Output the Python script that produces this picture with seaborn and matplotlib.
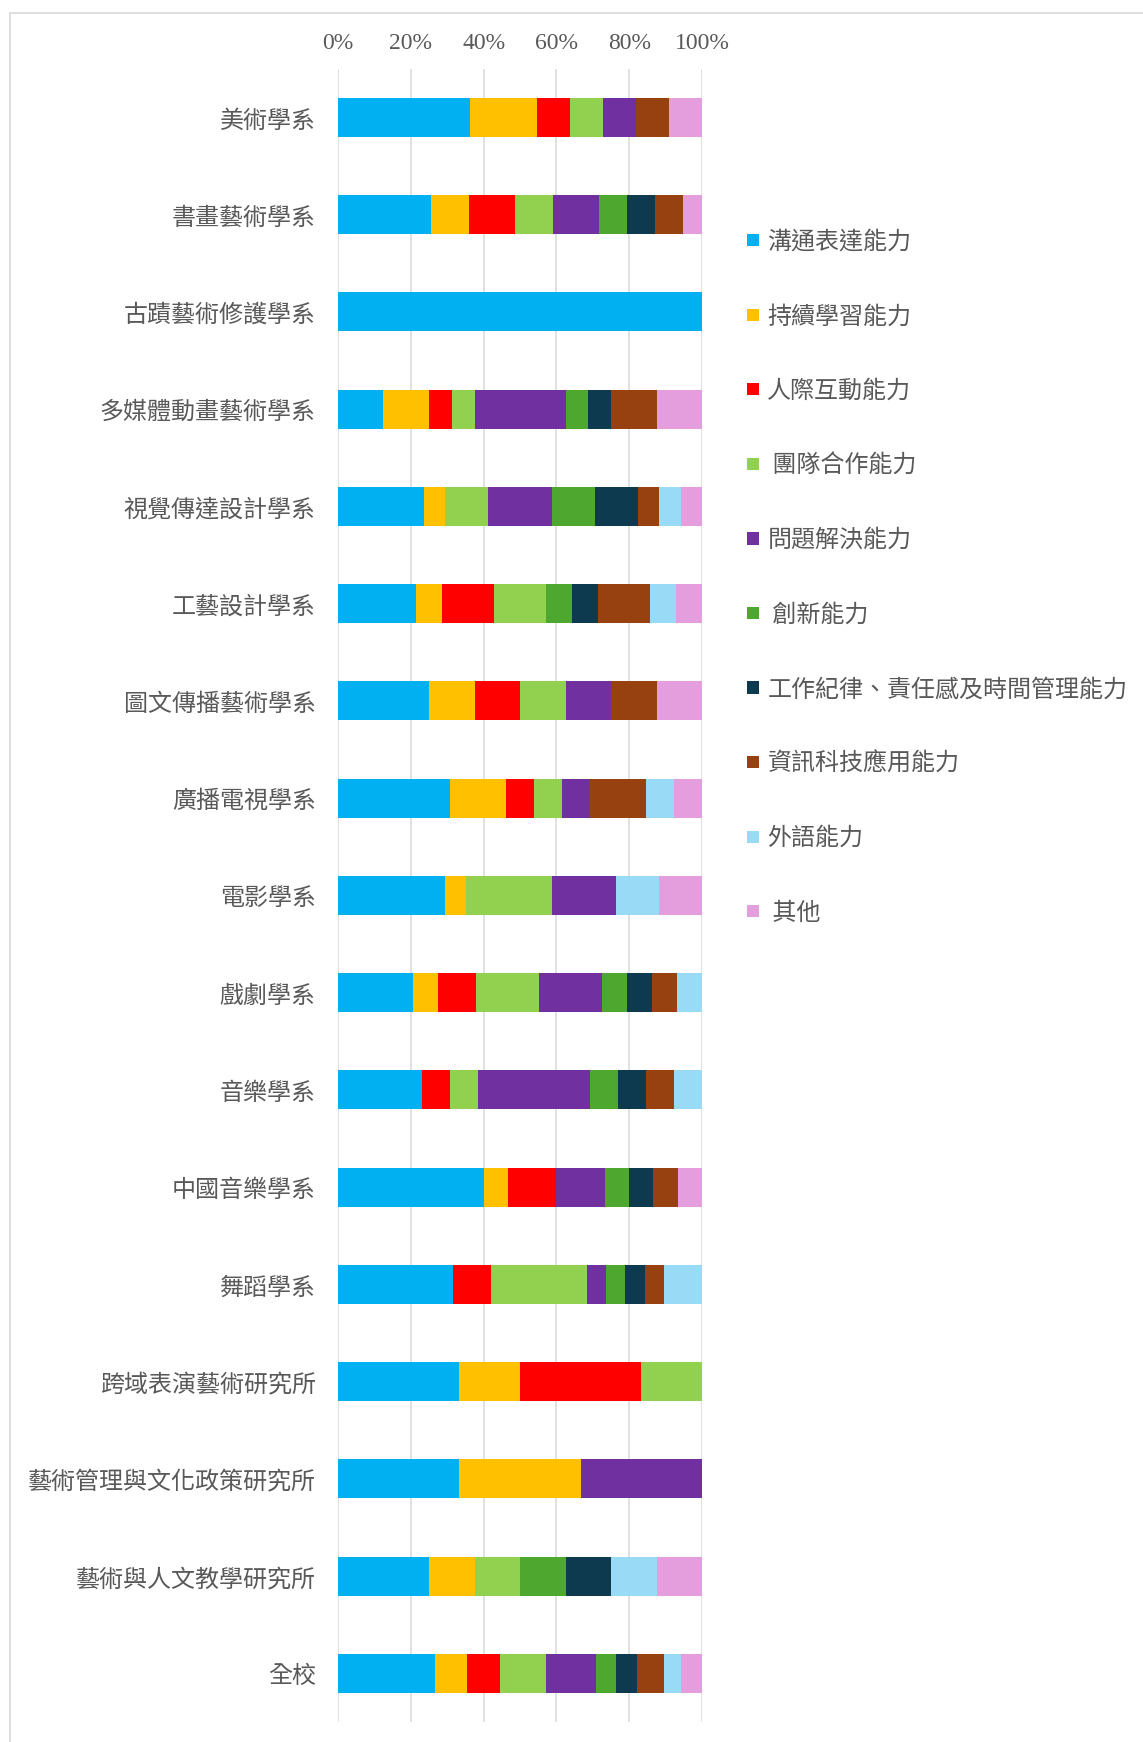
import matplotlib
matplotlib.use("Agg")
import matplotlib.pyplot as plt
import pandas as pd
import seaborn as sns
from matplotlib.lines import Line2D
from matplotlib.patches import Patch

# 各學系 (由上而下)
departments = ["美術學系", "書畫藝術學系", "古蹟藝術修護學系", "多媒體動畫藝術學系",
               "視覺傳達設計學系", "工藝設計學系", "圖文傳播藝術學系", "廣播電視學系",
               "電影學系", "戲劇學系", "音樂學系", "中國音樂學系", "舞蹈學系",
               "跨域表演藝術研究所", "藝術管理與文化政策研究所", "藝術與人文教學研究所", "全校"]

series_names = ["溝通表達能力", "持續學習能力", "人際互動能力", " 團隊合作能力", "問題解決能力",
                " 創新能力", "工作紀律、責任感及時間管理能力", "資訊科技應用能力", "外語能力", " 其他"]

# 各能力的填答數 (依學系順序)
communication = [4, 10, 1, 2, 4, 3, 2, 4, 5, 6, 3, 6, 6, 2, 1, 2, 61]
learning      = [2, 4, 0, 2, 1, 1, 1, 2, 1, 2, 0, 1, 0, 1, 1, 1, 20]
interpersonal = [1, 5, 0, 1, 0, 2, 1, 1, 0, 3, 1, 2, 2, 2, 0, 0, 21]
teamwork      = [1, 4, 0, 1, 2, 2, 1, 1, 4, 5, 1, 0, 5, 1, 0, 1, 29]
problem       = [1, 5, 0, 4, 3, 0, 1, 1, 3, 5, 4, 2, 1, 0, 1, 0, 31]
innovation    = [0, 3, 0, 1, 2, 1, 0, 0, 0, 2, 1, 1, 1, 0, 0, 1, 13]
discipline    = [0, 3, 0, 1, 2, 1, 0, 0, 0, 2, 1, 1, 1, 0, 0, 1, 13]
it_skills     = [1, 3, 0, 2, 1, 2, 1, 2, 0, 2, 1, 1, 1, 0, 0, 0, 17]
language      = [0, 0, 0, 0, 1, 1, 0, 1, 2, 2, 1, 0, 2, 0, 0, 1, 11]
other         = [1, 2, 0, 2, 1, 1, 1, 1, 2, 0, 0, 1, 0, 0, 0, 1, 13]

colors = ["#00b0f0", "#ffc000", "#ff0000", "#92d050", "#7030a0",
          "#4ea72e", "#0e3a4f", "#974010", "#99dbf7", "#e59edd"]

values = [communication, learning, interpersonal, teamwork, problem,
          innovation, discipline, it_skills, language, other]

df = pd.DataFrame({name: v for name, v in zip(series_names, values)}, index=departments)
pct = df.div(df.sum(axis=1), axis=0) * 100
cum = pct.cumsum(axis=1)
cum["學系"] = departments

sns.set_style("white")
plt.rcParams['font.family'] = ['Noto Sans CJK TC', 'DejaVu Sans']
gray = "#595959"

fig = plt.figure(figsize=(11.43, 17.42), dpi=100)
ax = fig.add_axes([0.2957, 0.0115, 0.3185, 0.949])

# 由累計最大者先畫, 較小的累計值蓋在上面形成堆疊
for name, col in reversed(list(zip(series_names, colors))):
    sns.barplot(data=cum, x=name, y="學系", color=col, saturation=1, width=0.4,
                linewidth=0, errorbar=None, orient="h", ax=ax)

ax.set_xlim(0, 100)
ax.set_ylim(16.5, -0.5)
ax.set_xlabel("")
ax.set_ylabel("")
ax.xaxis.tick_top()
ax.set_xticks([0, 20, 40, 60, 80, 100])
ax.set_xticklabels([f"{t}%" for t in range(0, 101, 20)], family="Liberation Serif",
                   fontsize=17, color=gray)
ax.tick_params(axis="x", length=0, pad=11)
ax.tick_params(axis="y", length=0, pad=16, labelsize=17.3, labelcolor=gray)
ax.grid(axis="x", color="#d9d9d9", linewidth=1.1)
ax.set_axisbelow(True)
for s in ax.spines.values():
    s.set_visible(False)

handles = [Patch(facecolor=c, edgecolor="none") for c in colors]
leg = fig.legend(handles, series_names, loc="upper left", bbox_to_anchor=(0.643, 0.8755),
                 frameon=False, fontsize=17.3, labelcolor=gray, handlelength=0.5,
                 handleheight=0.4, handletextpad=0.35, labelspacing=2.02, borderpad=0)

# 外框 (左與上)
fig.add_artist(Line2D([10 / 1143, 10 / 1143], [0, 1 - 13 / 1742], transform=fig.transFigure,
                      color="#d9d9d9", linewidth=1.2))
fig.add_artist(Line2D([10 / 1143, 1], [1 - 13 / 1742, 1 - 13 / 1742], transform=fig.transFigure,
                      color="#d9d9d9", linewidth=1.2))

fig.savefig("out.png", dpi=100, facecolor="white")
